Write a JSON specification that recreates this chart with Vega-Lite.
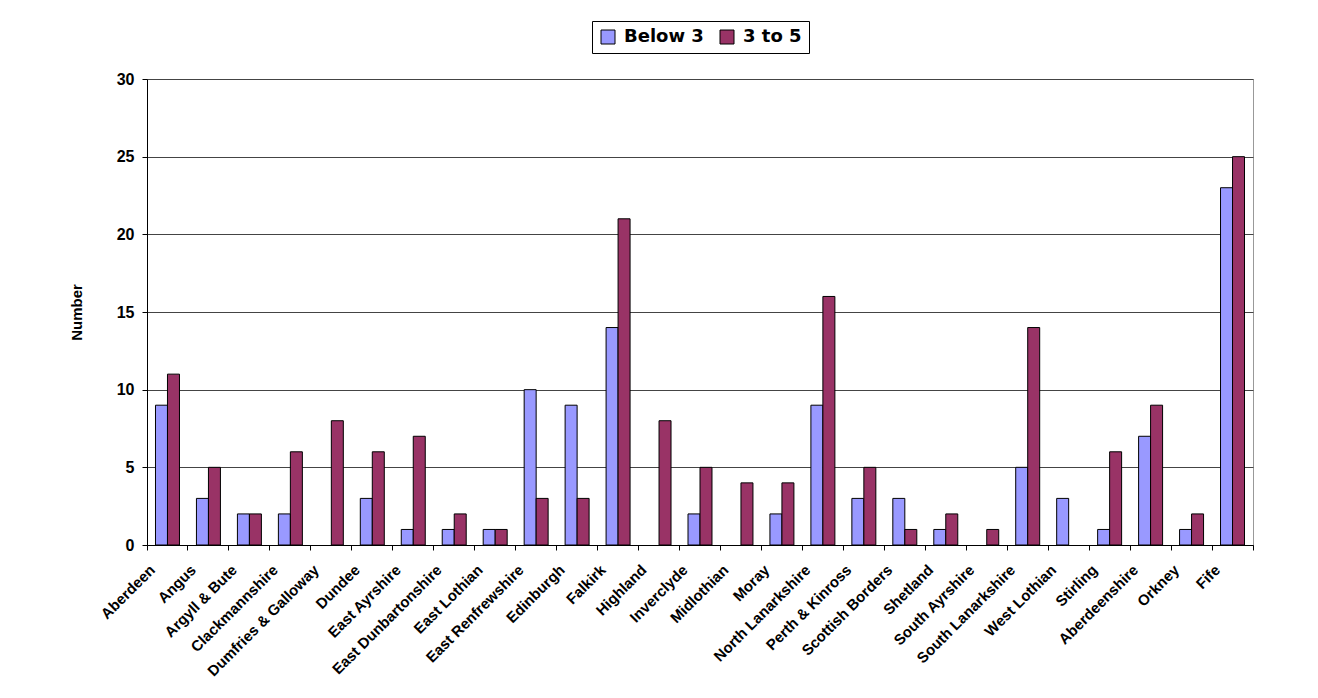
{
  "$schema": "https://vega.github.io/schema/vega-lite/v6.json",
  "width": 1106,
  "height": 466,
  "autosize": {"type": "none"},
  "padding": {"left": 147, "top": 79, "right": 65, "bottom": 153},
  "background": "white",
  "config": {
    "view": {"stroke": "#999999", "strokeWidth": 1},
    "font": "Liberation Sans"
  },
  "data": {
    "values": [
      {"area": "Aberdeen", "series": "Below 3", "value": 9},
      {"area": "Aberdeen", "series": "3 to 5", "value": 11},
      {"area": "Angus", "series": "Below 3", "value": 3},
      {"area": "Angus", "series": "3 to 5", "value": 5},
      {"area": "Argyll & Bute", "series": "Below 3", "value": 2},
      {"area": "Argyll & Bute", "series": "3 to 5", "value": 2},
      {"area": "Clackmannshire", "series": "Below 3", "value": 2},
      {"area": "Clackmannshire", "series": "3 to 5", "value": 6},
      {"area": "Dumfries & Galloway", "series": "Below 3", "value": 0},
      {"area": "Dumfries & Galloway", "series": "3 to 5", "value": 8},
      {"area": "Dundee", "series": "Below 3", "value": 3},
      {"area": "Dundee", "series": "3 to 5", "value": 6},
      {"area": "East Ayrshire", "series": "Below 3", "value": 1},
      {"area": "East Ayrshire", "series": "3 to 5", "value": 7},
      {"area": "East Dunbartonshire", "series": "Below 3", "value": 1},
      {"area": "East Dunbartonshire", "series": "3 to 5", "value": 2},
      {"area": "East Lothian", "series": "Below 3", "value": 1},
      {"area": "East Lothian", "series": "3 to 5", "value": 1},
      {"area": "East Renfrewshire", "series": "Below 3", "value": 10},
      {"area": "East Renfrewshire", "series": "3 to 5", "value": 3},
      {"area": "Edinburgh", "series": "Below 3", "value": 9},
      {"area": "Edinburgh", "series": "3 to 5", "value": 3},
      {"area": "Falkirk", "series": "Below 3", "value": 14},
      {"area": "Falkirk", "series": "3 to 5", "value": 21},
      {"area": "Highland", "series": "Below 3", "value": 0},
      {"area": "Highland", "series": "3 to 5", "value": 8},
      {"area": "Inverclyde", "series": "Below 3", "value": 2},
      {"area": "Inverclyde", "series": "3 to 5", "value": 5},
      {"area": "Midlothian", "series": "Below 3", "value": 0},
      {"area": "Midlothian", "series": "3 to 5", "value": 4},
      {"area": "Moray", "series": "Below 3", "value": 2},
      {"area": "Moray", "series": "3 to 5", "value": 4},
      {"area": "North Lanarkshire", "series": "Below 3", "value": 9},
      {"area": "North Lanarkshire", "series": "3 to 5", "value": 16},
      {"area": "Perth & Kinross", "series": "Below 3", "value": 3},
      {"area": "Perth & Kinross", "series": "3 to 5", "value": 5},
      {"area": "Scottish Borders", "series": "Below 3", "value": 3},
      {"area": "Scottish Borders", "series": "3 to 5", "value": 1},
      {"area": "Shetland", "series": "Below 3", "value": 1},
      {"area": "Shetland", "series": "3 to 5", "value": 2},
      {"area": "South Ayrshire", "series": "Below 3", "value": 0},
      {"area": "South Ayrshire", "series": "3 to 5", "value": 1},
      {"area": "South Lanarkshire", "series": "Below 3", "value": 5},
      {"area": "South Lanarkshire", "series": "3 to 5", "value": 14},
      {"area": "West Lothian", "series": "Below 3", "value": 3},
      {"area": "West Lothian", "series": "3 to 5", "value": 0},
      {"area": "Stirling", "series": "Below 3", "value": 1},
      {"area": "Stirling", "series": "3 to 5", "value": 6},
      {"area": "Aberdeenshire", "series": "Below 3", "value": 7},
      {"area": "Aberdeenshire", "series": "3 to 5", "value": 9},
      {"area": "Orkney", "series": "Below 3", "value": 1},
      {"area": "Orkney", "series": "3 to 5", "value": 2},
      {"area": "Fife", "series": "Below 3", "value": 23},
      {"area": "Fife", "series": "3 to 5", "value": 25}
    ]
  },
  "resolve": {"axis": {"x": "independent"}},
  "layer": [
    {
      "mark": {"type": "bar", "strokeWidth": 1},
      "encoding": {
        "x": {
          "field": "area",
          "type": "nominal",
          "sort": null,
          "scale": {"paddingInner": 0, "paddingOuter": 0},
          "axis": {
            "orient": "bottom",
            "title": null,
            "ticks": false,
            "labelAngle": -45,
            "labelAlign": "right",
            "labelBaseline": "middle",
            "labelPadding": 22,
            "labelOffset": -15,
            "labelFont": "Liberation Sans",
            "labelFontSize": 15,
            "labelFontWeight": "bold",
            "labelColor": "black",
            "labelOverlap": false,
            "labelBound": false,
            "domainColor": "black",
            "domainWidth": 1,
            "grid": false
          }
        },
        "xOffset": {
          "field": "series",
          "type": "nominal",
          "sort": ["Below 3", "3 to 5"],
          "scale": {"paddingInner": 0, "paddingOuter": 0.708}
        },
        "y": {
          "field": "value",
          "type": "quantitative",
          "scale": {"domain": [0, 30], "nice": false},
          "axis": {
            "title": "Number",
            "titleFont": "Liberation Sans",
            "titleFontSize": 15,
            "titleFontWeight": "bold",
            "titleColor": "black",
            "titlePadding": 32,
            "values": [0, 5, 10, 15, 20, 25, 30],
            "labelFont": "Liberation Sans",
            "labelFontSize": 16,
            "labelFontWeight": "bold",
            "labelColor": "black",
            "labelPadding": 8,
            "domainColor": "black",
            "tickColor": "black",
            "tickSize": 5,
            "grid": true,
            "gridColor": "#444444",
            "gridWidth": 1
          }
        },
        "stroke": {
          "condition": {"test": "datum.value === 0", "value": null},
          "value": "black"
        },
        "fill": {
          "field": "series",
          "type": "nominal",
          "sort": ["Below 3", "3 to 5"],
          "scale": {"domain": ["Below 3", "3 to 5"], "range": ["#9999FF", "#993366"]},
          "legend": {
            "title": null,
            "orient": "none",
            "legendX": 445,
            "legendY": -58,
            "direction": "horizontal",
            "strokeColor": "black",
            "fillColor": "white",
            "padding": 7,
            "symbolType": "square",
            "symbolSize": 196,
            "symbolStrokeColor": "black",
            "symbolStrokeWidth": 1,
            "symbolOpacity": 1,
            "labelFont": "DejaVu Sans",
            "labelFontSize": 18,
            "labelFontWeight": "bold",
            "labelColor": "black",
            "labelOffset": 7,
            "columnPadding": 14
          }
        }
      }
    },
    {
      "mark": {"type": "rule", "strokeOpacity": 0},
      "encoding": {
        "x": {
          "field": "area",
          "type": "nominal",
          "sort": null,
          "axis": {
            "orient": "bottom",
            "title": null,
            "bandPosition": 1,
            "tickExtra": true,
            "labels": false,
            "domain": false,
            "ticks": true,
            "tickColor": "black",
            "tickSize": 5,
            "tickWidth": 1,
            "grid": false
          }
        }
      }
    }
  ]
}
